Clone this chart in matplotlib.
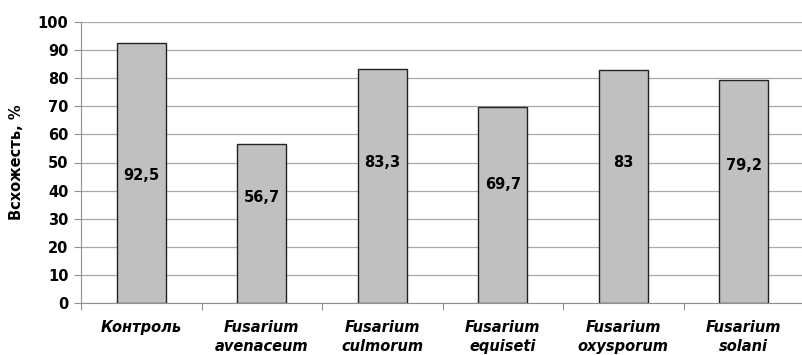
import matplotlib.pyplot as plt
import numpy as np

categories = ['Контроль', 'Fusarium\navenaceum', 'Fusarium\nculmorum',
              'Fusarium\nequiseti', 'Fusarium\noxysporum', 'Fusarium\nsolani']
values = [92.5, 56.7, 83.3, 69.7, 83, 79.2]
value_labels = ['92,5', '56,7', '83,3', '69,7', '83', '79,2']
# height at which each value label is printed inside the bar
label_y = [45.5, 37.5, 50, 42, 50, 49]

fig = plt.figure(figsize=(8.02, 3.55), dpi=100)
ax = fig.add_axes([81 / 802, 1 - 303 / 355, 723 / 802, 281 / 355])

x = np.arange(len(categories))
ax.bar(x, values, width=0.405, color='#c0c0c0', edgecolor='#222222', linewidth=1.0, zorder=3)

for xi, t, ly in zip(x, value_labels, label_y):
    ax.text(xi, ly, t, ha='center', va='center', fontsize=10.5, fontweight='bold',
            family='DejaVu Sans', zorder=4)

ax.set_xlim(-0.5, len(categories) - 0.5)
ax.set_ylim(0, 100)
ax.set_yticks(range(0, 101, 10))
ax.yaxis.grid(True, color='#a8a8a8', linewidth=0.9, zorder=0)
for s in ['top', 'right']:
    ax.spines[s].set_visible(False)
for s in ['left', 'bottom']:
    ax.spines[s].set_color('#909090')

ax.tick_params(axis='y', length=5, color='#909090', labelsize=10.5, pad=4)
for lab in ax.get_yticklabels():
    lab.set_fontweight('bold')

# category boundaries as tick marks, labels at centres
ax.set_xticks(np.arange(-0.5, len(categories), 1.0))
ax.set_xticklabels([])
ax.tick_params(axis='x', length=5, color='#909090')
ax.set_xticks(x, minor=True)
ax.set_xticklabels(categories, minor=True, fontsize=10.5, fontweight='bold', style='italic',
                   linespacing=1.35)
ax.tick_params(axis='x', which='minor', length=0, pad=12)

ax.set_ylabel('Всхожесть, %', fontsize=10.5, fontweight='bold', labelpad=10)

fig.savefig('out.png', dpi=100)
